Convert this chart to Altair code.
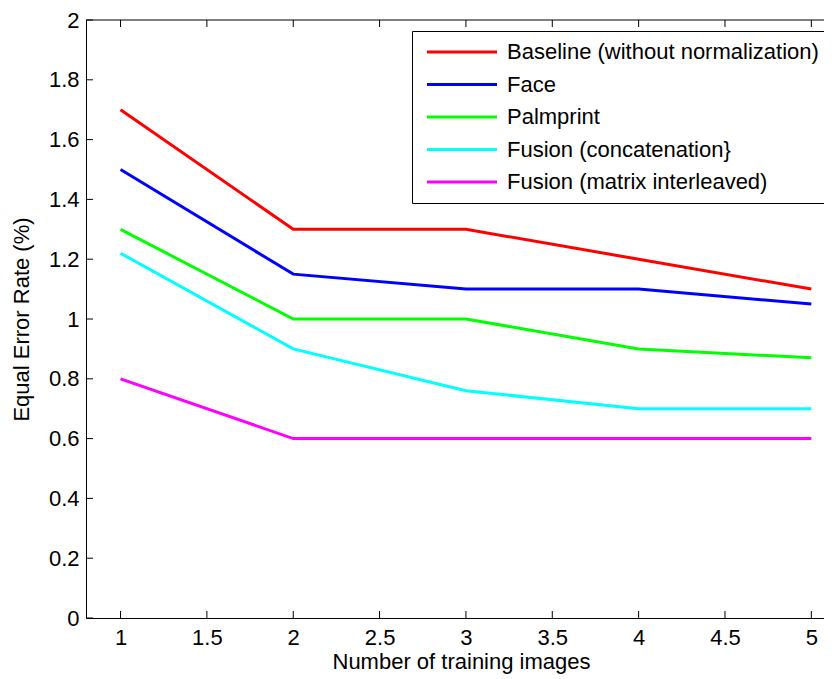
import altair as alt
import pandas as pd

# ---- data ----
train_images = [1, 2, 3, 4, 5]
series_names = [
    "Baseline (without normalization)",
    "Face",
    "Palmprint",
    "Fusion (concatenation}",
    "Fusion (matrix interleaved)",
]
baseline = [1.7, 1.3, 1.3, 1.2, 1.1]
face = [1.5, 1.15, 1.1, 1.1, 1.05]
palmprint = [1.3, 1.0, 1.0, 0.9, 0.87]
fusion_concat = [1.22, 0.9, 0.76, 0.7, 0.7]
fusion_interleaved = [0.8, 0.6, 0.6, 0.6, 0.6]
series_colors = ["#ff0000", "#0000ff", "#00ff00", "#00ffff", "#ff00ff"]

x_ticks = [1, 1.5, 2, 2.5, 3, 3.5, 4, 4.5, 5]
y_ticks = [0, 0.2, 0.4, 0.6, 0.8, 1.0, 1.2, 1.4, 1.6, 1.8, 2.0]

# ---- build table ----
rows = []
for name, vals in zip(series_names,
                      [baseline, face, palmprint, fusion_concat, fusion_interleaved]):
    for xi, v in zip(train_images, vals):
        rows.append({"images": xi, "eer": v, "series": name, "order": series_names.index(name)})
df = pd.DataFrame(rows)
xt = pd.DataFrame({"images": x_ticks})
yt = pd.DataFrame({"eer": y_ticks})

W, H = 738, 598
FONT = "Liberation Sans"
FS = 22
TICK = 7

x_scale = alt.Scale(domain=[0.8, 0.8 + W / 172.7], nice=False, zero=False)
y_scale = alt.Scale(domain=[0, 2], nice=False)

lines = alt.Chart(df).mark_line(strokeWidth=3, clip=True).encode(
    x=alt.X("images:Q", scale=x_scale,
            axis=alt.Axis(values=x_ticks, ticks=False, grid=False, format="~g",
                          title="Number of training images", labelPadding=9,
                          titlePadding=3, titleX=W / 2 + 6, labelFlush=False)),
    y=alt.Y("eer:Q", scale=y_scale,
            axis=alt.Axis(values=y_ticks, ticks=False, grid=False, format="~g",
                          title="Equal Error Rate (%)", labelPadding=7,
                          titlePadding=15, labelFlush=False)),
    color=alt.Color("series:N",
                    scale=alt.Scale(domain=series_names, range=series_colors),
                    sort=series_names,
                    title=None,
                    legend=alt.Legend(orient="none", legendX=326, legendY=11,
                                      symbolType="M-5,0L5,0", symbolSize=196,
                                      symbolStrokeWidth=3, symbolOffset=29,
                                      labelOffset=34,
                                      rowPadding=10.5, padding=10,
                                      strokeColor="black", fillColor="white",
                                      labelFontSize=FS, labelFont=FONT,
                                      labelColor="black", labelLimit=400)),
    detail="order:O",
)

bottom_ticks = alt.Chart(xt).mark_rule(color="black", strokeWidth=1).encode(
    x=alt.X("images:Q", scale=x_scale), y=alt.value(H), y2=alt.value(H - TICK))
top_ticks = alt.Chart(xt).mark_rule(color="black", strokeWidth=1).encode(
    x=alt.X("images:Q", scale=x_scale), y=alt.value(0), y2=alt.value(TICK))
left_ticks = alt.Chart(yt).mark_rule(color="black", strokeWidth=1).encode(
    y=alt.Y("eer:Q", scale=y_scale), x=alt.value(0), x2=alt.value(TICK))
top_border = alt.Chart(xt.head(1)).mark_rule(color="black", strokeWidth=1).encode(
    x=alt.value(0), x2=alt.value(W + 20), y=alt.value(0))

chart = alt.layer(lines, bottom_ticks, top_ticks, left_ticks, top_border).properties(
    width=W, height=H,
    autosize=alt.AutoSizeParams(type="none"),
    padding={"left": 78, "top": 12, "right": 0, "bottom": 61},
).configure(background="white").configure_view(strokeWidth=0).configure_axis(
    domainColor="black", domainWidth=1,
    labelFont=FONT, labelFontSize=FS, labelColor="black",
    titleFont=FONT, titleFontSize=FS, titleColor="black", titleFontWeight="normal",
)

chart.save("out.html", embed_options={"renderer": "svg", "actions": False})
